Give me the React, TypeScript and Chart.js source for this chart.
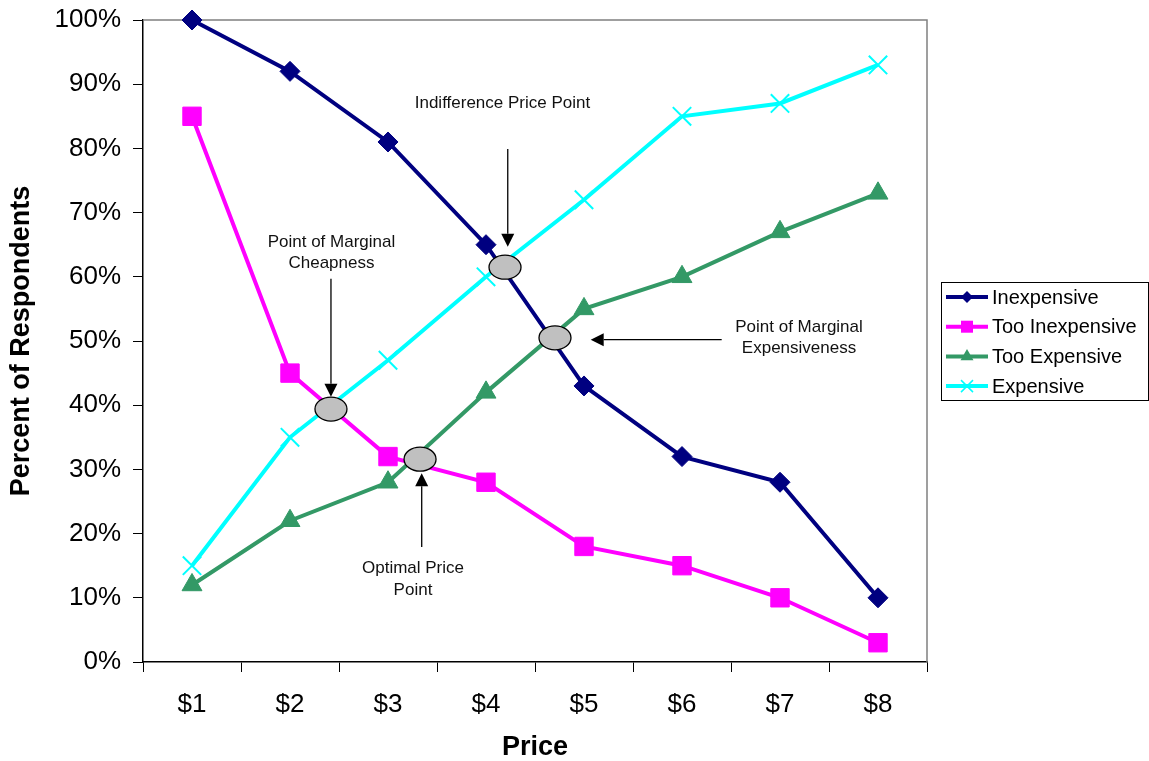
import React, { useEffect, useRef } from 'react';
import { Chart, registerables } from 'chart.js';

Chart.register(...registerables);

// ---------- data ----------
const categories = ['$1', '$2', '$3', '$4', '$5', '$6', '$7', '$8'];
const inexpensive = [100, 92, 81, 65, 43, 32, 28, 10];
const tooInexpensive = [85, 45, 32, 28, 18, 15, 10, 3];
const tooExpensive = [12, 22, 28, 42, 55, 60, 67, 73];
const expensive = [15, 35, 47, 60, 72, 85, 87, 93];
const seriesNames = ['Inexpensive', 'Too Inexpensive', 'Too Expensive', 'Expensive'];
const yAxisTitle = 'Percent of Respondents';
const xAxisTitle = 'Price';

// intersection points (category index, percent)
const intersectionX = [1.418, 2.327, 3.194, 3.704];
const intersectionY = [39.4, 31.6, 61.5, 50.5];

// annotation notes (in category index / percent units)
const notes = [
  { lines: ['Point of Marginal', 'Cheapness'], tx: 1.423, ty: [65.3, 62.1], from: [1.418, 59.7], to: [1.418, 41.3] },
  { lines: ['Indifference Price Point'], tx: 3.168, ty: [87.1], from: [3.222, 79.9], to: [3.222, 64.7] },
  { lines: ['Point of Marginal', 'Expensiveness'], tx: 6.194, ty: [52.2, 48.9], from: [5.405, 50.2], to: [4.068, 50.2] },
  { lines: ['Optimal Price', 'Point'], tx: 2.255, ty: [14.6, 11.1], from: [2.344, 17.9], to: [2.344, 29.4] },
];

const FONT = '"Liberation Sans", Arial, sans-serif';
const colors = ['#000080', '#FF00FF', '#339966', '#00FFFF'];
const styles = ['rectRot', 'rect', 'triangle', 'crossRot'];

function drawLegendMarker(ctx: CanvasRenderingContext2D, style: string, x: number, y: number, color: string) {
  ctx.save();
  ctx.fillStyle = color;
  ctx.strokeStyle = color;
  ctx.beginPath();
  if (style === 'rectRot') {
    const r = 6;
    ctx.moveTo(x - r, y); ctx.lineTo(x, y - r); ctx.lineTo(x + r, y); ctx.lineTo(x, y + r);
    ctx.closePath(); ctx.fill();
  } else if (style === 'rect') {
    const h = 6;
    ctx.rect(x - h, y - h, 2 * h, 2 * h); ctx.fill();
  } else if (style === 'triangle') {
    const r = 7.5;
    ctx.moveTo(x, y - r);
    ctx.lineTo(x + r * 0.866, y + r / 2);
    ctx.lineTo(x - r * 0.866, y + r / 2);
    ctx.closePath(); ctx.fill();
  } else {
    const h = 6;
    ctx.lineWidth = 1.5;
    ctx.moveTo(x - h, y - h); ctx.lineTo(x + h, y + h);
    ctx.moveTo(x + h, y - h); ctx.lineTo(x - h, y + h);
    ctx.stroke();
  }
  ctx.restore();
}

function drawArrow(ctx: CanvasRenderingContext2D, x1: number, y1: number, x2: number, y2: number) {
  const ang = Math.atan2(y2 - y1, x2 - x1);
  const len = 13, hw = 6.5;
  const bx = x2 - Math.cos(ang) * len, by = y2 - Math.sin(ang) * len;
  ctx.save();
  ctx.strokeStyle = '#000';
  ctx.fillStyle = '#000';
  ctx.lineWidth = 1.3;
  ctx.beginPath();
  ctx.moveTo(x1, y1);
  ctx.lineTo(bx, by);
  ctx.stroke();
  ctx.beginPath();
  ctx.moveTo(x2, y2);
  ctx.lineTo(bx + Math.sin(ang) * hw, by - Math.cos(ang) * hw);
  ctx.lineTo(bx - Math.sin(ang) * hw, by + Math.cos(ang) * hw);
  ctx.closePath();
  ctx.fill();
  ctx.restore();
}

const annotationPlugin = {
  id: 'vwAnnotations',
  beforeDatasetsDraw(chart: any) {
    const { ctx, chartArea } = chart;
    ctx.save();
    // gray frame top & right
    ctx.strokeStyle = '#808080';
    ctx.lineWidth = 1.5;
    ctx.beginPath();
    ctx.moveTo(chartArea.left, chartArea.top);
    ctx.lineTo(chartArea.right, chartArea.top);
    ctx.lineTo(chartArea.right, chartArea.bottom);
    ctx.stroke();
    ctx.restore();
  },
  afterDatasetsDraw(chart: any) {
    const { ctx, scales } = chart;
    const xs = scales.x, ys = scales.y;
    ctx.save();
    // ellipses
    for (let i = 0; i < intersectionX.length; i++) {
      const px = xs.getPixelForValue(intersectionX[i]);
      const py = ys.getPixelForValue(intersectionY[i]);
      ctx.beginPath();
      ctx.ellipse(px, py, 16, 12, 0, 0, Math.PI * 2);
      ctx.fillStyle = '#C0C0C0';
      ctx.fill();
      ctx.lineWidth = 1.3;
      ctx.strokeStyle = '#000';
      ctx.stroke();
    }

    // notes
    ctx.font = `17px ${FONT}`;
    ctx.fillStyle = '#111';
    ctx.textAlign = 'center';
    ctx.textBaseline = 'middle';
    for (const n of notes) {
      const tx = xs.getPixelForValue(n.tx);
      n.lines.forEach((l, i) => {
        ctx.fillText(l, tx, ys.getPixelForValue(n.ty[i]));
      });
      drawArrow(
        ctx,
        xs.getPixelForValue(n.from[0]), ys.getPixelForValue(n.from[1]),
        xs.getPixelForValue(n.to[0]), ys.getPixelForValue(n.to[1])
      );
    }
    ctx.restore();
  },
  afterDraw(chart: any) {
    const { ctx } = chart;
    ctx.save();
    const bx = 941, by = 282, bw = 207, bh = 118;
    ctx.strokeStyle = '#000';
    ctx.lineWidth = 1;
    ctx.strokeRect(bx + 0.5, by + 0.5, bw, bh);
    ctx.font = `20px ${FONT}`;
    ctx.textBaseline = 'middle';
    ctx.textAlign = 'left';
    seriesNames.forEach((name, i) => {
      const y = by + 15 + i * 29.7;
      ctx.strokeStyle = colors[i];
      ctx.lineWidth = 4;
      ctx.beginPath();
      ctx.moveTo(946, y);
      ctx.lineTo(988, y);
      ctx.stroke();
      drawLegendMarker(ctx, styles[i], 967, y, colors[i]);
      ctx.fillStyle = '#000';
      ctx.fillText(name, 992, y + 1);
    });
    ctx.restore();
  },
};

export default function App() {
  const ref = useRef<HTMLCanvasElement | null>(null);
  useEffect(() => {
    if (!ref.current) return;
    const seriesData = [inexpensive, tooInexpensive, tooExpensive, expensive];
    const radii = [10, 13, 11.5, 13];
    const chart = new Chart(ref.current, {
      type: 'line',
      data: {
        labels: categories,
        datasets: seriesNames.map((name, i) => ({
          label: name,
          data: seriesData[i],
          borderColor: colors[i],
          backgroundColor: colors[i],
          borderWidth: 4,
          pointStyle: styles[i] as any,
          pointRadius: radii[i],
          pointBorderWidth: i === 3 ? 2 : 1,
          pointBackgroundColor: colors[i],
          pointBorderColor: colors[i],
          tension: 0,
          clip: false as any,
          order: 4 - i,
        })),
      },
      options: {
        responsive: false,
        animation: false,
        events: [],
        layout: { padding: { top: 20, right: 222, left: 0, bottom: 0 } },
        plugins: {
          legend: { display: false },
          tooltip: { enabled: false },
        },
        scales: {
          x: {
            type: 'category',
            offset: true,
            afterFit: (s: any) => { s.height = 99; s.paddingLeft = 0; s.paddingRight = 0; },
            grid: { offset: true, drawOnChartArea: false, drawTicks: true, tickLength: 10, color: '#000', lineWidth: 1 },
            border: { color: '#000', width: 1.5 },
            ticks: { color: '#000', font: { family: FONT, size: 26 }, padding: 17, maxRotation: 0, autoSkip: false },
            title: { display: true, text: xAxisTitle, color: '#000', font: { family: FONT, size: 27, weight: 'bold', lineHeight: 1 }, padding: { top: 0, bottom: 0 } },
          },
          y: {
            min: 0,
            max: 100,
            afterFit: (s: any) => { s.width = 143; s.paddingTop = 0; s.paddingBottom = 0; },
            grid: { drawOnChartArea: false, drawTicks: true, tickLength: 10, color: '#000', lineWidth: 1 },
            border: { color: '#000', width: 1.5 },
            ticks: {
              stepSize: 10,
              color: '#000',
              font: { family: FONT, size: 26 },
              padding: 12,
              callback: (v: any) => `${v}%`,
            },
            title: { display: true, text: yAxisTitle, color: '#000', font: { family: FONT, size: 27, weight: 'bold', lineHeight: 1 }, padding: { top: 8, bottom: 0 } },
          },
        },
      },
      plugins: [annotationPlugin],
    });
    return () => chart.destroy();
  }, []);
  return (
    <div style={{ position: 'absolute', left: 0, top: 0, width: 1149, height: 761, background: '#fff' }}>
      <canvas ref={ref} width={1149} height={761} style={{ display: 'block', width: 1149, height: 761 }} />
    </div>
  );
}
